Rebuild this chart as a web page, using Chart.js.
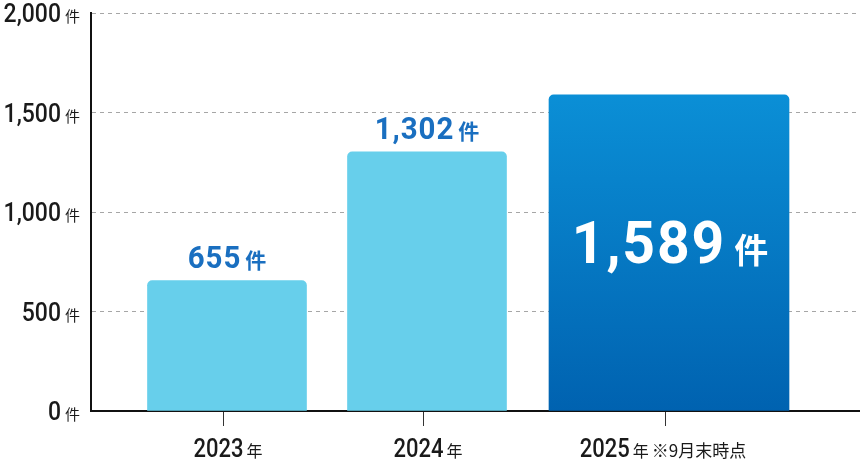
<!DOCTYPE html>
<html>
<head>
<meta charset="utf-8">
<script src="https://cdn.jsdelivr.net/npm/chart.js@4.4.0/dist/chart.umd.min.js"></script>
<style>
  html, body { margin: 0; padding: 0; background: #fff; }
  #wrap { width: 860px; height: 466px; }
</style>
</head>
<body>
<div id="wrap"><canvas id="chart"></canvas></div>
<script>
// data
const years = ['2023', '2024', '2025'];
const counts = [655, 1302, 1589];
const yTicks = [0, 500, 1000, 1500, 2000];
const notes = ['', '', '※9月末時点'];
const unit = '件';
const yearUnit = '年';

// layout: where each year sits on the x scale (2025 gets a wider slot)
const slot = [1, 2, 3.21];

const NUM_FONT = 'Roboto, "Noto Sans", sans-serif';
const JP_FONT = '"Noto Sans CJK JP", "Noto Sans", sans-serif';

// draws "number + small unit" as one group, centred / right aligned at x
function drawPair(ctx, num, numFont, suf, sufFont, x, baseline, align, color, gap, sx, spacing) {
  ctx.save();
  ctx.fillStyle = color;
  ctx.textBaseline = 'alphabetic';
  ctx.textAlign = 'left';
  ctx.letterSpacing = (spacing || 0) + 'px';
  ctx.font = numFont;
  const wn = ctx.measureText(num).width * sx;
  ctx.letterSpacing = '0px';
  ctx.font = sufFont;
  const ws = ctx.measureText(suf).width;
  const total = wn + gap + ws;
  let left = x;
  if (align === 'center') left = x - total / 2;
  if (align === 'right') left = x - total;
  ctx.save();
  ctx.translate(left, baseline);
  ctx.scale(sx, 1);
  ctx.letterSpacing = (spacing || 0) + 'px';
  ctx.font = numFont;
  ctx.fillText(num, 0, 0);
  ctx.restore();
  ctx.font = sufFont;
  ctx.fillText(suf, left + wn + gap, baseline);
  ctx.restore();
  return left + total;
}

const labelPlugin = {
  id: 'labels',
  afterDraw(chart) {
    const { ctx } = chart;
    const xs = chart.scales.x;
    const ys = chart.scales.y;

    // y tick labels
    ys.ticks.forEach(t => {
      const py = ys.getPixelForValue(t.value);
      drawPair(ctx, t.value.toLocaleString('en-US'), '500 25px ' + NUM_FONT,
        unit, '15px ' + JP_FONT, 80, py + 9, 'right', '#1a1a1a', 4, 0.92);
    });

    // x labels
    years.forEach((yr, i) => {
      const px = xs.getPixelForValue(slot[i]);
      ctx.save();
      ctx.font = '500 25px ' + NUM_FONT;
      const wn = ctx.measureText(yr).width * 0.88;
      ctx.font = '16px ' + JP_FONT;
      const wy = ctx.measureText(yearUnit).width;
      ctx.font = '17px ' + JP_FONT;
      const wnote = notes[i] ? ctx.measureText(notes[i]).width + 3 : 0;
      ctx.restore();
      const total = wn + 3 + wy + wnote;
      const shift = notes[i] ? -6 : 1;
      const end = drawPair(ctx, yr, '500 25px ' + NUM_FONT, yearUnit, '16px ' + JP_FONT,
        px + shift - total / 2, 457, 'left', '#1a1a1a', 3, 0.88);
      if (notes[i]) {
        ctx.save();
        ctx.fillStyle = '#1a1a1a';
        ctx.font = '17px ' + JP_FONT;
        ctx.textAlign = 'left';
        ctx.fillText(notes[i], end + 3, 457);
        ctx.restore();
      }
    });

    // value labels on bars
    chart.data.datasets.forEach((ds, d) => {
      const meta = chart.getDatasetMeta(d);
      meta.data.forEach((bar, i) => {
        if (ds.data[i].y == null) return;
        const txt = counts[i].toLocaleString('en-US');
        if (ds.inside) {
          const mid = (bar.y + bar.base) / 2;
          drawPair(ctx, txt, '700 60px ' + NUM_FONT, unit, '700 34px ' + JP_FONT,
            bar.x + 1, mid + 10, 'center', '#ffffff', 8, 0.95, 2);
        } else {
          drawPair(ctx, txt, '700 31px ' + NUM_FONT, unit, '700 21px ' + JP_FONT,
            bar.x, bar.y - 13, 'center', '#1a6fc0', 4, 0.95, 1);
        }
      });
    });
  }
};

const blueGradient = (context) => {
  const { chart } = context;
  const area = chart.chartArea;
  if (!area) return '#0a7fcc';
  const ys = chart.scales.y;
  const g = chart.ctx.createLinearGradient(0, ys.getPixelForValue(counts[2]), 0, area.bottom);
  g.addColorStop(0, '#0b8fd6');
  g.addColorStop(1, '#0062b0');
  return g;
};

new Chart(document.getElementById('chart'), {
  type: 'bar',
  data: {
    datasets: [
      {
        data: counts.map((v, i) => ({ x: slot[i], y: i < 2 ? v : null })),
        backgroundColor: '#67cfeb',
        barThickness: 159,
        borderRadius: 5,
        borderSkipped: 'start',
        grouped: false
      },
      {
        data: counts.map((v, i) => ({ x: slot[i], y: i === 2 ? v : null })),
        backgroundColor: blueGradient,
        barThickness: 240,
        borderRadius: 5,
        borderSkipped: 'start',
        grouped: false,
        inside: true
      }
    ]
  },
  options: {
    responsive: true,
    maintainAspectRatio: false,
    animation: false,
    layout: { padding: { top: 13, right: 0, left: 0, bottom: 0 } },
    plugins: {
      legend: { display: false },
      tooltip: { enabled: false }
    },
    scales: {
      x: {
        type: 'linear',
        offset: false,
        min: 0.32,
        max: 4.165,
        afterBuildTicks: (scale) => { scale.ticks = slot.map(v => ({ value: v - 0.018 })); },
        afterFit: (scale) => { scale.height = 55; },
        ticks: { display: false },
        grid: { offset: false, drawOnChartArea: false, drawTicks: true, tickLength: 15, color: '#333', lineWidth: 1 },
        border: { display: true, color: '#111', width: 2 }
      },
      y: {
        min: 0,
        max: 2000,
        afterBuildTicks: (scale) => { scale.ticks = yTicks.map(v => ({ value: v })); },
        afterFit: (scale) => { scale.width = 91; },
        ticks: { display: false },
        grid: {
          drawTicks: false,
          lineWidth: 1,
          color: (c) => (c.tick && c.tick.value === 0 ? 'rgba(0,0,0,0)' : '#a6a6a6')
        },
        border: { display: true, color: '#111', width: 2, dash: [4, 4] }
      }
    }
  },
  plugins: [labelPlugin]
});
</script>
</body>
</html>
